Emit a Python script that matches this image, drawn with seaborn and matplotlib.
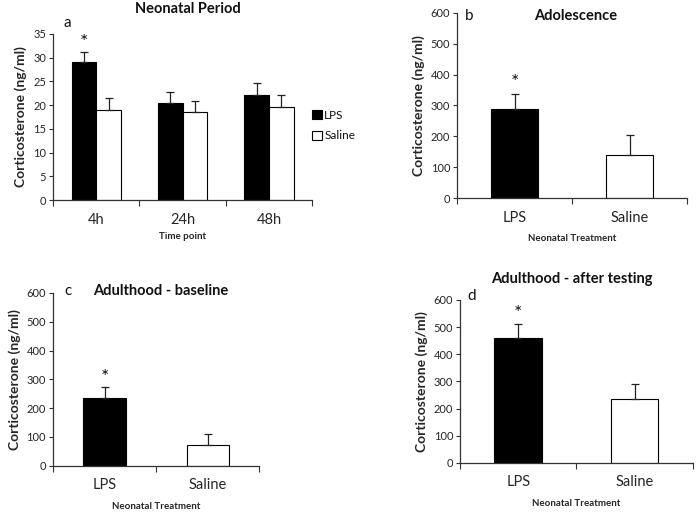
import matplotlib
matplotlib.use("Agg")
import matplotlib.pyplot as plt
import seaborn as sns
import pandas as pd
from matplotlib.patches import Patch

# panel a: neonatal period
time_points = ["4h", "24h", "48h"]
lps_neonatal = [29.0, 20.4, 22.1]
lps_neonatal_err = [2.2, 2.4, 2.5]
saline_neonatal = [19.0, 18.5, 19.5]
saline_neonatal_err = [2.4, 2.3, 2.6]

# panels b-d: single time points
treatments = ["LPS", "Saline"]
adolescence = [290, 140]
adolescence_err = [47, 65]
adult_baseline = [235, 72]
adult_baseline_err = [37, 38]
adult_testing = [458, 237]
adult_testing_err = [55, 55]

palette = {"LPS": "black", "Saline": "white"}

sns.set_style("white")
plt.rcParams["font.family"] = ["Lato", "DejaVu Sans"]
plt.rcParams["text.color"] = "#111111"


def style_axes(ax, labels, ymax, ystep, ylabel, xlabel, xlabelpad):
    sns.despine(ax=ax)
    for sp in ["left", "bottom"]:
        ax.spines[sp].set_color("#333333")
        ax.spines[sp].set_linewidth(0.9)
    n = len(labels)
    ax.set_xlim(-0.5, n - 0.5)
    ax.set_ylim(0, ymax)
    ax.set_yticks(range(0, ymax + 1, ystep))
    ax.tick_params(axis="y", labelsize=8, length=3, width=0.8, direction="out",
                   left=True, color="#333333", pad=2)
    ax.set_xticks(range(n))
    ax.set_xticklabels(labels, fontsize=10.5)
    ax.tick_params(axis="x", length=0, pad=9)
    ax.set_xticks([i - 0.5 for i in range(n + 1)], minor=True)
    ax.tick_params(axis="x", which="minor", length=4, width=0.8, bottom=True,
                   color="#333333", direction="out")
    ax.set_ylabel(ylabel, fontsize=10, fontweight="bold")
    ax.set_xlabel(xlabel, fontsize=7, fontweight="bold", labelpad=xlabelpad)


def add_errors(ax, errs):
    for cont, err in zip(ax.containers, errs):
        for bar, e in zip(cont, err):
            x = bar.get_x() + bar.get_width() / 2
            h = bar.get_height()
            ax.errorbar(x, h, yerr=[[0], [e]], fmt="none", ecolor="#222222",
                        elinewidth=0.9, capsize=3, capthick=0.9, zorder=1)


fig = plt.figure(figsize=(6.97, 5.13), dpi=100)
ax_a = fig.add_axes([0.076, 0.610, 0.372, 0.324])
ax_b = fig.add_axes([0.656, 0.614, 0.330, 0.361])
ax_c = fig.add_axes([0.076, 0.092, 0.296, 0.337])
ax_d = fig.add_axes([0.660, 0.0975, 0.334, 0.318])

# panel a
df_a = pd.DataFrame({
    "time": time_points * 2,
    "group": ["LPS"] * 3 + ["Saline"] * 3,
    "value": lps_neonatal + saline_neonatal,
})
sns.barplot(data=df_a, x="time", y="value", hue="group", palette=palette,
            order=time_points, hue_order=treatments, width=0.57, errorbar=None,
            edgecolor="black", linewidth=0.8, ax=ax_a, legend=False)
style_axes(ax_a, time_points, 35, 5, "Corticosterone (ng/ml)", "Time point", 4)
add_errors(ax_a, [lps_neonatal_err, saline_neonatal_err])
ax_a.text(0.52, 1.15, "Neonatal Period", transform=ax_a.transAxes, ha="center",
          va="center", fontsize=10.5, fontweight="bold")
ax_a.text(0.04, 1.066, "a", transform=ax_a.transAxes, ha="left", va="center", fontsize=11)
b0 = ax_a.containers[0][0]
ax_a.text(b0.get_x() + b0.get_width() / 2, lps_neonatal[0] + lps_neonatal_err[0] + 1.9,
          "*", ha="center", va="center", fontsize=14)
handles = [Patch(facecolor=palette[t], edgecolor="black", linewidth=0.8) for t in treatments]
fig.legend(handles, treatments, loc="center left", bbox_to_anchor=(0.433, 0.755),
           frameon=False, fontsize=8.5, handlelength=0.8, handleheight=0.8,
           handletextpad=0.2, labelspacing=0.8)

# panels b-d
panels = [
    (ax_b, adolescence, adolescence_err, "b", "Adolescence", (0.513, 0.984), (0.035, 0.984)),
    (ax_c, adult_baseline, adult_baseline_err, "c", "Adulthood - baseline", (0.52, 1.01), (0.053, 1.01)),
    (ax_d, adult_testing, adult_testing_err, "d", "Adulthood - after testing", (0.48, 1.13), (0.03, 1.025)),
]
for ax, vals, errs, letter, title, tpos, lpos in panels:
    df = pd.DataFrame({"group": treatments, "value": vals})
    sns.barplot(data=df, x="group", y="value", hue="group", palette=palette,
                order=treatments, hue_order=treatments, width=0.41, errorbar=None,
                edgecolor="black", linewidth=0.8, ax=ax, legend=False)
    style_axes(ax, treatments, 600, 100, "Corticosterone (ng/ml)", "Neonatal Treatment", 7)
    add_errors(ax, [[e] for e in errs])
    ax.text(tpos[0], tpos[1], title, transform=ax.transAxes, ha="center",
            va="center", fontsize=10.5, fontweight="bold")
    ax.text(lpos[0], lpos[1], letter, transform=ax.transAxes, ha="left",
            va="center", fontsize=11)
    b0 = ax.containers[0][0]
    ax.text(b0.get_x() + b0.get_width() / 2, vals[0] + errs[0] + 36, "*",
            ha="center", va="center", fontsize=14)

fig.savefig("out.png", dpi=100)
